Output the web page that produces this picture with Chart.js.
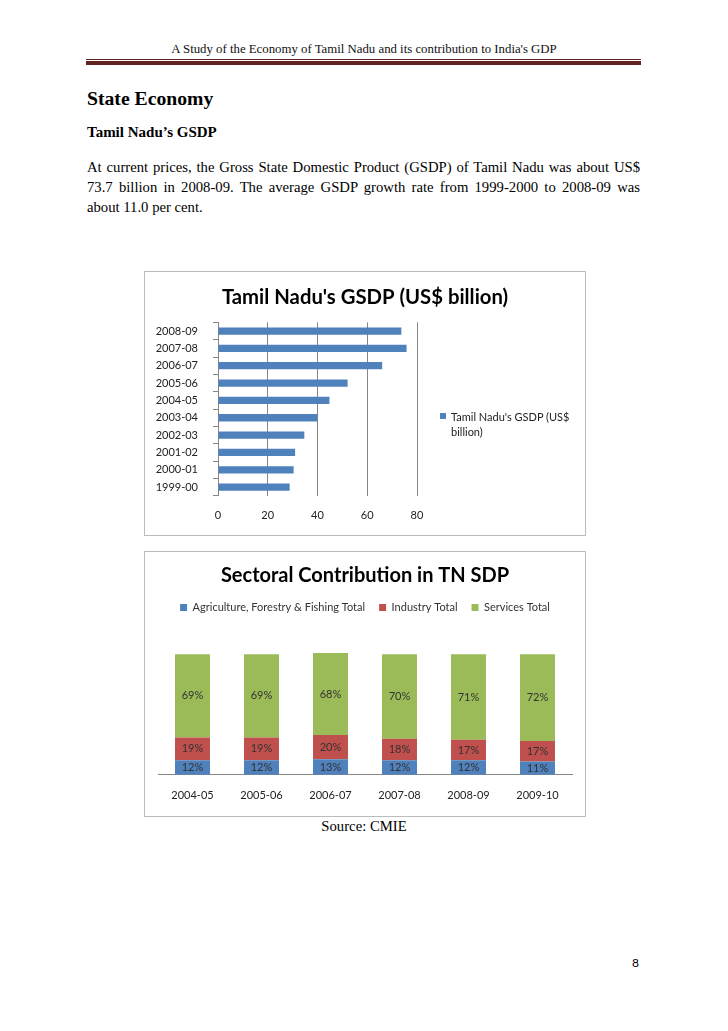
<!DOCTYPE html>
<html>
<head>
<meta charset="utf-8">
<script src="https://cdn.jsdelivr.net/npm/chart.js@4.4.1/dist/chart.umd.min.js"></script>
<style>
  html, body { margin: 0; padding: 0; background: #fff; }
  .page { position: relative; width: 728px; height: 1031px; overflow: hidden; font-family: "Liberation Serif", serif; color: #000; }
  .header { position: absolute; left: 0; width: 728px; top: 42px; text-align: center; font-size: 12.8px; color: #111; }
  .rule-thin { position: absolute; left: 86px; width: 555px; top: 59px; height: 1px; background: #622423; }
  .rule-thick { position: absolute; left: 86px; width: 555px; top: 61px; height: 4px; background: #622423; }
  h1 { position: absolute; left: 87px; top: 87px; margin: 0; font-size: 19.7px; font-weight: bold; }
  h2 { position: absolute; left: 87px; top: 124px; margin: 0; font-size: 15px; font-weight: bold; }
  .para { position: absolute; left: 87px; top: 157px; width: 553px; font-size: 14.7px; line-height: 20px; }
  .para .ln { text-align: justify; text-align-last: justify; white-space: nowrap; }
  .para .ln.last { text-align-last: left; }
  .box { position: absolute; border: 1px solid #bcbcbc; background: #fff; }
  .box canvas { position: absolute; left: 0; top: 0; }
  .legend1 { position: absolute; left: 295px; top: 137px; font-family: Lato, sans-serif; font-size: 11px; line-height: 15px; color: #222; }
  .legend1 .sw { position: absolute; left: 0; top: 4px; width: 6px; height: 6px; background: #4f81bd; }
  .legend1 .tx { margin-left: 11px; }
  .source { position: absolute; left: 0; width: 728px; top: 818px; text-align: center; font-size: 14.7px; }
  .pageno { position: absolute; left: 632px; top: 955px; font-family: Lato, sans-serif; font-size: 12px; }
</style>
</head>
<body>
<div class="page">
  <div class="header">A Study of the Economy of Tamil Nadu and its contribution to India's GDP</div>
  <div class="rule-thin"></div>
  <div class="rule-thick"></div>
  <h1>State Economy</h1>
  <h2>Tamil Nadu’s GSDP</h2>
  <div class="para">
    <div class="ln">At current prices, the Gross State Domestic Product (GSDP) of Tamil Nadu was about US$</div>
    <div class="ln">73.7 billion in 2008-09. The average GSDP growth rate from 1999-2000 to 2008-09 was</div>
    <div class="ln last">about 11.0 per cent.</div>
  </div>

  <div class="box" style="left:144px; top:271px; width:440px; height:263px;">
    <canvas id="gsdp" width="440" height="263"></canvas>
    <div class="legend1"><span class="sw"></span><div class="tx">Tamil Nadu's GSDP (US$<br>billion)</div></div>
  </div>

  <div class="box" style="left:144px; top:551px; width:440px; height:264px;">
    <canvas id="sector" width="440" height="264"></canvas>
  </div>

  <div class="source">Source: CMIE</div>
  <div class="pageno">8</div>
</div>

<script>
const FONT = 'Lato, "Open Sans", sans-serif';

// chart 1: GSDP by year
const years = ['1999-00', '2000-01', '2001-02', '2002-03', '2003-04', '2004-05', '2005-06', '2006-07', '2007-08', '2008-09'];
const gsdp = [28.8, 30.4, 31.0, 34.7, 40.0, 44.8, 52.1, 66.0, 75.8, 73.7];
const gsdpTicks = [0, 20, 40, 60, 80];

// chart 2: sector shares (%)
const periods = ['2004-05', '2005-06', '2006-07', '2007-08', '2008-09', '2009-10'];
const agriculture = [12, 12, 13, 12, 12, 11];
const industry = [19, 19, 20, 18, 17, 17];
const services = [69, 69, 68, 70, 71, 72];

new Chart(document.getElementById('gsdp').getContext('2d'), {
    type: 'bar',
    data: {
        labels: years,
        datasets: [{
            label: "Tamil Nadu's GSDP (US$ billion)",
            data: gsdp,
            backgroundColor: '#4f81bd',
            borderWidth: 0,
            barPercentage: 0.42,
            categoryPercentage: 1,
        }]
    },
    options: {
        indexAxis: 'y',
        responsive: false,
        animation: false,
        layout: { padding: 0 },
        plugins: {
            legend: { display: false },
            tooltip: { enabled: false },
            title: {
                display: true,
                text: "Tamil Nadu's GSDP (US$ billion)",
                color: '#000',
                font: { family: FONT, size: 20.3, weight: 'bold' },
                padding: { top: 13, bottom: 13 }
            }
        },
        scales: {
            x: {
                min: 0,
                max: 80,
                afterBuildTicks(axis) { axis.ticks = gsdpTicks.map(v => ({ value: v })); },
                grid: { color: '#868686', drawTicks: false },
                border: { display: false },
                ticks: { color: '#222', font: { family: FONT, size: 11 }, padding: 13 }
            },
            y: {
                reverse: true,
                afterFit(s) { s.width = 73; },
                grid: { offset: true, drawOnChartArea: false, drawTicks: true, tickLength: 5, color: '#868686' },
                border: { color: '#868686' },
                ticks: { autoSkip: false, color: '#222', font: { family: FONT, size: 11 }, padding: 15 }
            },
            // empty right-hand axis that keeps room for the legend
            side: {
                type: 'category',
                position: 'right',
                afterFit(s) { s.width = 168; },
                grid: { display: false },
                border: { display: false },
                ticks: { display: false }
            }
        }
    }
});

const segmentLabels = {
    id: 'segmentLabels',
    afterDatasetsDraw(chart) {
        const ctx = chart.ctx;
        ctx.save();
        ctx.font = '11px ' + FONT;
        ctx.fillStyle = '#333';
        ctx.textAlign = 'center';
        ctx.textBaseline = 'middle';
        chart.data.datasets.forEach((ds, i) => {
            chart.getDatasetMeta(i).data.forEach((bar, j) => {
                const p = bar.getCenterPoint();
                ctx.fillText(ds.data[j] + '%', p.x, p.y);
            });
        });
        ctx.restore();
    }
};

new Chart(document.getElementById('sector').getContext('2d'), {
    type: 'bar',
    data: {
        labels: periods,
        datasets: [
            { label: 'Agriculture, Forestry & Fishing Total', data: agriculture, backgroundColor: '#4f81bd' },
            { label: 'Industry Total', data: industry, backgroundColor: '#c0504d' },
            { label: 'Services Total', data: services, backgroundColor: '#9bbb59' }
        ]
    },
    options: {
        responsive: false,
        animation: false,
        datasets: { bar: { barPercentage: 0.507, categoryPercentage: 1, borderWidth: 0 } },
        layout: { padding: { left: 13, right: 13, top: 0, bottom: 0 } },
        plugins: {
            tooltip: { enabled: false },
            title: {
                display: true,
                text: 'Sectoral Contribution in TN SDP',
                color: '#000',
                font: { family: FONT, size: 20, weight: 'bold' },
                padding: { top: 12, bottom: 0 }
            },
            legend: {
                position: 'top',
                labels: {
                    boxWidth: 7,
                    boxHeight: 7,
                    padding: 14,
                    color: '#333',
                    font: { family: FONT, size: 11 }
                }
            }
        },
        scales: {
            x: {
                stacked: true,
                grid: { display: false, drawTicks: false },
                border: { color: '#868686' },
                ticks: { color: '#222', font: { family: FONT, size: 11 }, padding: 14 }
            },
            y: {
                stacked: true,
                display: false,
                min: 0,
                max: 126
            }
        }
    },
    plugins: [segmentLabels]
});
</script>
</body>
</html>
